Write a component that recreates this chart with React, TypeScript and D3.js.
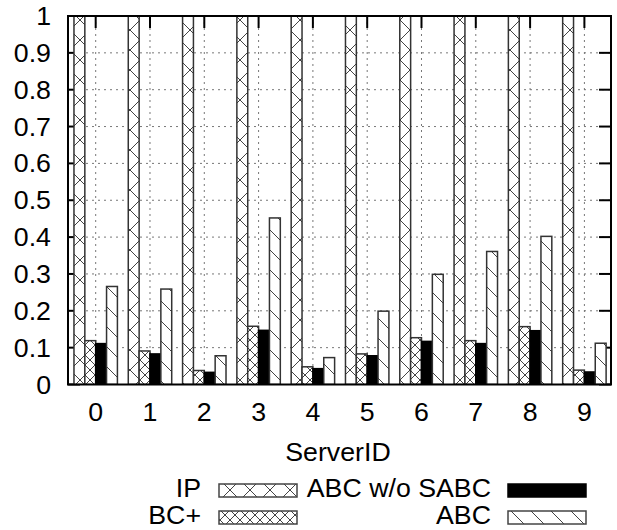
import React from "react";
import * as d3 from "d3";

const categories = ["0", "1", "2", "3", "4", "5", "6", "7", "8", "9"];
const seriesNames = ["IP", "BC+", "ABC w/o SABC", "ABC"];
const ipValues = [1, 1, 1, 1, 1, 1, 1, 1, 1, 1];
const bcPlusValues = [0.119, 0.091, 0.038, 0.158, 0.048, 0.083, 0.127, 0.119, 0.157, 0.039];
const abcWoValues = [0.111, 0.083, 0.033, 0.147, 0.043, 0.078, 0.117, 0.111, 0.146, 0.034];
const abcValues = [0.266, 0.259, 0.078, 0.452, 0.073, 0.199, 0.299, 0.361, 0.402, 0.112];
const yTicks = [0, 0.1, 0.2, 0.3, 0.4, 0.5, 0.6, 0.7, 0.8, 0.9, 1];

const W = 617;
const H = 530;
const L = 68, R = 611, T = 16, B = 384.5;
const FONT = "'Liberation Sans', Arial, Helvetica, sans-serif";
const FS = 25;
const SX = 1.07;

const fills = ["url(#pIP)", "url(#pBC)", "#000", "url(#pABC)"];

function Txt({ x, y, anchor, children }: { x: number; y: number; anchor: string; children: React.ReactNode }) {
  return (
    <text
      transform={`translate(${x},${y}) scale(${SX},1)`}
      textAnchor={anchor}
      fontFamily={FONT}
      fontSize={FS}
      fill="#000"
    >
      {children}
    </text>
  );
}

export default function App() {
  const x = d3.scaleLinear().domain([-0.51, 9.49]).range([L, R]);
  const y = d3.scaleLinear().domain([0, 1]).range([B, T]);
  const groupW = x(1) - x(0);
  const bw = groupW / 5;
  const all = [ipValues, bcPlusValues, abcWoValues, abcValues];

  const legendItems = [
    { name: seriesNames[0], fill: fills[0], tx: 201, sx: 219, sy: 484 },
    { name: seriesNames[2], fill: fills[2], tx: 491, sx: 508, sy: 484 },
    { name: seriesNames[1], fill: fills[1], tx: 201, sx: 219, sy: 511 },
    { name: seriesNames[3], fill: fills[3], tx: 491, sx: 508, sy: 511 },
  ];

  return (
    <svg width={W} height={H} style={{ position: "absolute", left: 0, top: 0, background: "#fff" }}>
      <defs>
        <pattern id="pIP" patternUnits="userSpaceOnUse" width={20} height={20}>
          <rect width={20} height={20} fill="#fff" />
          <path d="M0,0 L20,20 M20,0 L0,20" stroke="#444" strokeWidth={1} />
        </pattern>
        <pattern id="pBC" patternUnits="userSpaceOnUse" width={10} height={10}>
          <rect width={10} height={10} fill="#fff" />
          <path d="M0,0 L10,10 M10,0 L0,10" stroke="#444" strokeWidth={1} />
        </pattern>
        <pattern id="pABC" patternUnits="userSpaceOnUse" width={20} height={20}>
          <rect width={20} height={20} fill="#fff" />
          <path d="M0,0 L20,20" stroke="#444" strokeWidth={1} />
        </pattern>
        <clipPath id="plotClip">
          <rect x={L} y={T} width={R - L} height={B - T} />
        </clipPath>
      </defs>
      <rect width={W} height={H} fill="#fff" />

      {/* grid */}
      <g stroke="#777" strokeWidth={1} strokeDasharray="2,4">
        {yTicks.slice(1, -1).map((t) => (
          <line key={"gy" + t} x1={L} x2={R} y1={y(t)} y2={y(t)} />
        ))}
        {categories.map((c, i) => (
          <line key={"gx" + c} x1={x(i)} x2={x(i)} y1={T} y2={B} />
        ))}
      </g>

      {/* ticks */}
      <g stroke="#000" strokeWidth={2}>
        {yTicks.map((t) => (
          <g key={"t" + t}>
            <line x1={L} x2={L + 12} y1={y(t)} y2={y(t)} />
            <line x1={R} x2={R - 12} y1={y(t)} y2={y(t)} />
          </g>
        ))}
        {categories.map((c, i) => (
          <g key={"tx" + c}>
            <line x1={x(i)} x2={x(i)} y1={T} y2={T + 12} />
            <line x1={x(i)} x2={x(i)} y1={B} y2={B - 12} />
          </g>
        ))}
      </g>

      {/* bars */}
      <g clipPath="url(#plotClip)">
        {all.map((vals, s) =>
          vals.map((v, i) => {
            const x0 = x(i) + (s - 2) * bw;
            return (
              <rect
                key={s + "-" + i}
                x={x0}
                y={y(v)}
                width={bw}
                height={B - y(v)}
                fill={fills[s]}
                stroke={s === 2 ? "#000" : "#333"}
                strokeWidth={1.5}
              />
            );
          })
        )}
      </g>

      {/* border */}
      <rect x={L} y={T} width={R - L} height={B - T} fill="none" stroke="#000" strokeWidth={2} />

      {/* y labels */}
      {yTicks.map((t) => (
        <Txt key={"yl" + t} x={51} y={y(t) + 9} anchor="end">
          {String(+t.toFixed(1))}
        </Txt>
      ))}
      {/* x labels */}
      {categories.map((c, i) => (
        <Txt key={"xl" + c} x={x(i)} y={421} anchor="middle">
          {c}
        </Txt>
      ))}
      <Txt x={338} y={461} anchor="middle">ServerID</Txt>

      {/* legend */}
      {legendItems.map((it) => (
        <g key={it.name}>
          <Txt x={it.tx} y={it.sy + 13} anchor="end">
            {it.name}
          </Txt>
          <rect
            x={it.sx}
            y={it.sy}
            width={78}
            height={13}
            fill={it.fill}
            stroke={it.fill === "#000" ? "#000" : "#444"}
            strokeWidth={1.5}
          />
        </g>
      ))}
    </svg>
  );
}
